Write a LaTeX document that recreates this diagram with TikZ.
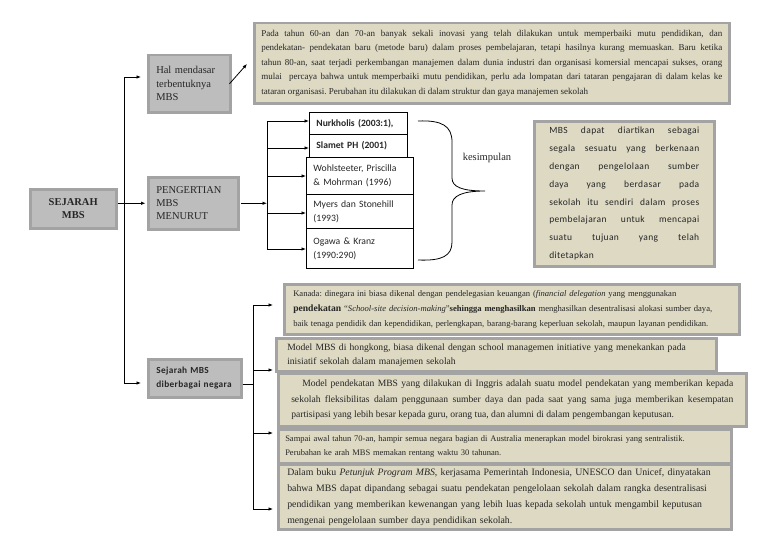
\documentclass[tikz,border=0pt]{standalone}
\usepackage{fontspec}
\setmainfont{Liberation Serif}
\newfontfamily\calfont{Carlito}
\usetikzlibrary{arrows.meta,shadows}
\definecolor{beige}{HTML}{DDD9C3}
\definecolor{bord}{HTML}{A3A3A3}
\definecolor{grayfill}{HTML}{BDBDBD}
\definecolor{shad}{HTML}{B9A994}
\definecolor{txt}{HTML}{262626}
\frenchspacing
\tikzset{
 box/.style={draw=bord, line width=2.5pt, anchor=north west, inner ysep=0pt, text=txt,
   drop shadow={shadow xshift=2pt, shadow yshift=-2pt, fill=shad, opacity=0.7}},
 beigebox/.style={box, fill=beige},
 graybox/.style={box, fill=grayfill},
 refbox/.style={draw=black, line width=0.9pt, fill=white, anchor=north west, inner ysep=0pt,
   inner xsep=7pt, align=left, text=txt},
 arr/.style={-{Latex[length=4.5pt,width=3.6pt]}, line width=0.8pt},
 ln/.style={line width=0.8pt},
}
\begin{document}
\begin{tikzpicture}[x=1pt,y=-1pt]
\useasboundingbox (0,0) rectangle (768,543);
% left gray boxes
\node[graybox, minimum width=86pt, minimum height=39pt, align=center,
  font=\bfseries\fontsize{10.5}{13.5}\selectfont] (sej) at (29,188) {SEJARAH\\MBS};
\node[graybox, minimum width=82pt, minimum height=57pt, inner xsep=8pt, text width=66pt, align=left,
  font=\fontsize{10.5}{13.5}\selectfont] (hal) at (147,54) {Hal mendasar\\terbentuknya\\MBS};
\node[graybox, minimum width=90pt, minimum height=52pt, inner xsep=8pt, text width=74pt, align=left,
  font=\fontsize{10.5}{13.3}\selectfont] (peng) at (147,176) {PENGERTIAN\\MBS\\MENURUT};
\node[graybox, minimum width=93pt, minimum height=38pt, inner xsep=8pt, text width=77pt, align=left,
  font=\calfont\bfseries\fontsize{9.3}{14}\selectfont\addfontfeature{LetterSpace=4}] (neg) at (147,358) {Sejarah MBS\\diberbagai negara};
% top text box
\node[beigebox, minimum width=475pt, minimum height=80pt, inner xsep=7pt, text width=461pt, align=justify,
  font=\fontsize{9}{14.5}\selectfont] (top) at (253,22) {Pada tahun 60-an dan 70-an banyak sekali inovasi yang telah dilakukan untuk memperbaiki mutu pendidikan, dan\linebreak
pendekatan- pendekatan baru (metode baru) dalam proses pembelajaran, tetapi hasilnya kurang memuaskan. Baru ketika\linebreak
tahun 80-an, saat terjadi perkembangan manajemen dalam dunia industri dan organisasi komersial mencapai sukses, orang\linebreak
mulai\ \ percaya bahwa untuk memperbaiki mutu pendidikan, perlu ada lompatan dari tataran pengajaran di dalam kelas ke\linebreak
tataran organisasi. Perubahan itu dilakukan di dalam struktur dan gaya manajemen sekolah};
% reference boxes
\node[refbox, minimum width=98pt, minimum height=22pt, text width=84pt, font=\calfont\bfseries\fontsize{9.6}{13.5}\selectfont] (nurk) at (309,112) {Nurkholis (2003:1),};
\node[refbox, minimum width=98pt, minimum height=23pt, text width=84pt, font=\calfont\bfseries\fontsize{9.6}{13.5}\selectfont] (slam) at (309,134) {Slamet PH (2001)};
\node[refbox, minimum width=107pt, minimum height=37pt, text width=93pt, font=\calfont\fontsize{9.7}{14}\selectfont] (wohl) at (306,157) {Wohlsteeter, Priscilla\\\& Mohrman (1996)};
\node[refbox, minimum width=107pt, minimum height=34pt, text width=93pt, font=\calfont\fontsize{9.7}{14}\selectfont] (myer) at (306,194) {Myers dan Stonehill\\(1993)};
\node[refbox, minimum width=107pt, minimum height=40pt, text width=93pt, font=\calfont\fontsize{9.7}{14}\selectfont] (ogaw) at (306,228) {Ogawa \& Kranz\\(1990:290)};
% brace and label
\draw[line width=0.8pt] (418,121) .. controls (442,120) and (452,126) .. (452,142) -- (452,178)
  .. controls (452,187) and (462,191) .. (485,191)
  .. controls (462,191) and (452,196) .. (452,205) -- (452,242)
  .. controls (452,256) and (442,261) .. (418,260);
\node[text=txt, font=\fontsize{10.5}{12}\selectfont] (kes) at (487,158) {kesimpulan};
% right summary box
\node[beigebox, minimum width=180pt, minimum height=145pt, inner xsep=15pt, text width=150pt, align=justify,
  font=\calfont\fontsize{9.5}{17.8}\selectfont\addfontfeature{LetterSpace=4}] (def) at (533,120) {MBS dapat diartikan sebagai\linebreak
segala sesuatu yang berkenaan\linebreak
dengan pengelolaan sumber\linebreak
daya yang berdasar pada\linebreak
sekolah itu sendiri dalam proses\linebreak
pembelajaran untuk mencapai\linebreak
suatu tujuan yang telah\linebreak
ditetapkan};
% bottom boxes
\node[beigebox, minimum width=455pt, minimum height=50pt, inner xsep=9pt, text width=437pt, align=left,
  font=\fontsize{8.6}{15}\selectfont] (kan) at (283,283) {Kanada: dinegara ini biasa dikenal dengan pendelegasian keuangan (\textit{financial delegation} yang menggunakan\\
{\bfseries\fontsize{9.6}{15}\selectfont pendekatan} ``\textit{School-site decision-making}''{\bfseries sehingga menghasilkan} menghasilkan desentralisasi alokasi sumber daya,\\
baik tenaga pendidik dan kependidikan, perlengkapan, barang-barang keperluan sekolah, maupun layanan pendidikan.};
\node[beigebox, minimum width=440pt, minimum height=33pt, inner xsep=11pt, text width=418pt, align=left,
  font=\fontsize{9.6}{14}\selectfont] (hk) at (275,337) {Model MBS di hongkong, biasa dikenal dengan school managemen initiative yang menekankan pada\\
inisiatif sekolah dalam manajemen sekolah};
\node[beigebox, minimum width=468pt, minimum height=53pt, inner xsep=13pt, text width=442pt, align=justify,
  font=\fontsize{9.6}{15.5}\selectfont] (ing) at (277,372) {\hspace*{11pt}Model pendekatan MBS yang dilakukan di Inggris adalah suatu model pendekatan yang memberikan kepada\linebreak
sekolah fleksibilitas dalam penggunaan sumber daya dan pada saat yang sama juga memberikan kesempatan\linebreak
partisipasi yang lebih besar kepada guru, orang tua, dan alumni di dalam pengembangan keputusan.};
\node[beigebox, minimum width=453pt, minimum height=34pt, inner xsep=7pt, text width=439pt, align=left,
  font=\fontsize{8.5}{14}\selectfont] (aus) at (277,428) {Sampai awal tahun 70-an, hampir semua negara bagian di Australia menerapkan model birokrasi yang sentralistik.\\
Perubahan ke arah MBS memakan rentang waktu 30 tahunan.};
\node[beigebox, minimum width=453pt, minimum height=65pt, inner xsep=9pt, text width=435pt, align=left,
  font=\fontsize{9.8}{16}\selectfont] (ind) at (277,463) {Dalam buku \textit{Petunjuk Program MBS}, kerjasama Pemerintah Indonesia, UNESCO dan Unicef, dinyatakan\\
bahwa MBS dapat dipandang sebagai suatu pendekatan pengelolaan sekolah dalam rangka desentralisasi\\
pendidikan yang memberikan kewenangan yang lebih luas kepada sekolah untuk mengambil keputusan\\
mengenai pengelolaan sumber daya pendidikan sekolah.};
% connector coordinates
\coordinate (tr1) at (124,77);
\coordinate (tr3) at (124,383);
\coordinate (d1) at (247,64);
\coordinate (v1) at (267,121);
\coordinate (v2) at (267,148);
\coordinate (v3) at (267,176);
\coordinate (v4) at (267,213);
\coordinate (v5) at (267,249);
\coordinate (bj) at (253,384);
\coordinate (b1) at (253,305);
\coordinate (b2) at (253,370);
\coordinate (b3) at (253,433);
\coordinate (b4) at (253,509);
\coordinate (a1) at (273,305);
\coordinate (a2) at (273,370);
\coordinate (a3) at (273,433);
\coordinate (a4) at (273,509);
% connectors
\draw[arr] (sej.east |- peng.west) -- ([xshift=-1.5pt]peng.west);
\draw[ln] (tr1) -- (tr3);
\draw[arr, shorten >=6pt] (tr1) -- (tr1 -| hal.west);
\draw[arr, shorten >=6pt] (tr3) -- (tr3 -| neg.west);
\draw[arr] ([xshift=-2pt]hal.east) -- (d1);
\draw[arr] ([xshift=1.5pt]peng.east) -- (peng.east -| v1);
\draw[ln] (v1) -- (v5);
\draw[arr] (v1) -- (v1 -| nurk.west);
\draw[arr] (v2) -- (v2 -| slam.west);
\draw[arr] (v3) -- (v3 -| wohl.west);
\draw[arr] (v4) -- (v4 -| myer.west);
\draw[arr] (v5) -- (v5 -| ogaw.west);
\draw[ln] (bj -| neg.east) -- (bj);
\draw[ln] (b1) -- (b4);
\draw[arr] (b1) -- (a1);
\draw[arr] (b2) -- (a2);
\draw[arr] (b3) -- (a3);
\draw[arr] (b4) -- (a4);
\end{tikzpicture}
\end{document}
